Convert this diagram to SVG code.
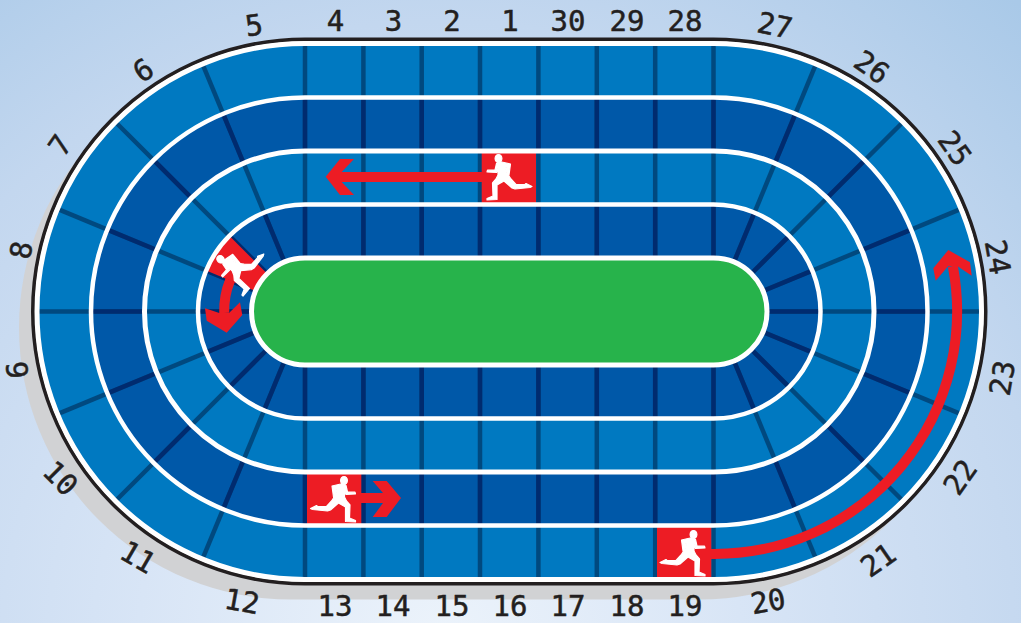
<svg xmlns="http://www.w3.org/2000/svg" width="1021" height="623" viewBox="0 0 1021 623">
<style>
.fl{fill:#0079c1}.fd{fill:#0058a8}
.sl{stroke:#00497f;stroke-width:4.5;fill:none}
.sd{stroke:#002b6f;stroke-width:4.5;fill:none}
.w{fill:none;stroke:#fff}
.red{fill:#ed1c24}
.rs{fill:none;stroke:#ed1c24;stroke-width:10}
.run{fill:#fff;stroke:#fff;stroke-width:1.2;stroke-linejoin:round}
text{font-family:"DejaVu Sans Mono","Liberation Mono",monospace;font-size:29px;fill:#231f20;stroke:#231f20;stroke-width:.5;text-anchor:middle}
</style>
<defs>
<radialGradient id="bg" gradientUnits="userSpaceOnUse" cx="440" cy="640" r="860">
<stop offset="0" stop-color="#ecf3fb"/><stop offset="0.35" stop-color="#d8e5f6"/><stop offset="0.72" stop-color="#c3d7ef"/><stop offset="1" stop-color="#a9c9e8"/>
</radialGradient>
<g id="spoke">
<line class="sl" x1="53" y1="0" x2="268" y2="0"/>
<line class="sd" x1="53" y1="0" x2="107" y2="0"/>
<line class="sd" x1="160" y1="0" x2="214" y2="0"/>
</g>
<g id="runner">
<ellipse class="run" cx="35.5" cy="5.5" rx="3.4" ry="3.9"/>
<path class="run" d="M34.5 8.5L37.5 10.5L39 17L46.5 17.2L47 19L37.5 19.5L36 15L36 22L38 26L41.5 30L41 43L47 45.5L47 47L37 46.5L37 32L30 28L22 35L19 36L4 34.5L2 33.5L8 30.5L9 31.5L18 31.5L23 26L27 20L28.5 15L27 14.5L27 22L25 22L23.5 11L30 9.5Z"/>
</g>
</defs>
<rect width="1021" height="623" fill="url(#bg)"/>
<rect id="shadow" x="19" y="55.5" width="952.5" height="544" rx="272" fill="#d1d2d4"/>
<g id="track">
<rect x="33" y="39.5" width="952.5" height="544" rx="272" fill="#fff"/>
<rect class="fl" x="37" y="43.5" width="944.5" height="536" rx="268"/>
<rect class="fd" x="91" y="97.5" width="836.5" height="428" rx="214"/>
<rect class="fl" x="144.5" y="151" width="729.5" height="321" rx="160.5"/>
<rect class="fd" x="198" y="204.5" width="622.5" height="214" rx="107"/>
</g>
<g id="dividers">
<g transform="translate(305 311.5)"><use href="#spoke" transform="rotate(-90)"/><use href="#spoke" transform="rotate(90)"/><use href="#spoke" transform="rotate(112.5)"/><use href="#spoke" transform="rotate(135)"/><use href="#spoke" transform="rotate(157.5)"/><use href="#spoke" transform="rotate(180)"/><use href="#spoke" transform="rotate(202.5)"/><use href="#spoke" transform="rotate(225)"/><use href="#spoke" transform="rotate(247.5)"/></g>
<g transform="translate(363.4 311.5)"><use href="#spoke" transform="rotate(-90)"/><use href="#spoke" transform="rotate(90)"/></g>
<g transform="translate(421.7 311.5)"><use href="#spoke" transform="rotate(-90)"/><use href="#spoke" transform="rotate(90)"/></g>
<g transform="translate(480 311.5)"><use href="#spoke" transform="rotate(-90)"/><use href="#spoke" transform="rotate(90)"/></g>
<g transform="translate(538.4 311.5)"><use href="#spoke" transform="rotate(-90)"/><use href="#spoke" transform="rotate(90)"/></g>
<g transform="translate(596.8 311.5)"><use href="#spoke" transform="rotate(-90)"/><use href="#spoke" transform="rotate(90)"/></g>
<g transform="translate(655.2 311.5)"><use href="#spoke" transform="rotate(-90)"/><use href="#spoke" transform="rotate(90)"/></g>
<g transform="translate(713.5 311.5)"><use href="#spoke" transform="rotate(-90)"/><use href="#spoke" transform="rotate(90)"/><use href="#spoke" transform="rotate(-67.5)"/><use href="#spoke" transform="rotate(-45)"/><use href="#spoke" transform="rotate(-22.5)"/><use href="#spoke" transform="rotate(0)"/><use href="#spoke" transform="rotate(22.5)"/><use href="#spoke" transform="rotate(45)"/><use href="#spoke" transform="rotate(67.5)"/></g>
</g>
<g id="red-cells">
<rect class="red" x="481.7" y="152" width="54.3" height="51"/>
<rect class="red" x="307" y="474" width="54.3" height="51"/>
<rect class="red" x="657" y="527" width="54.3" height="51"/>
<path class="red" d="M229.3 235.8L206.1 270.6L256 291.2L267.5 274Z"/>
</g>
<g id="lines">
<rect x="33" y="39.5" width="952.5" height="544" rx="272" fill="none" stroke="#231f20" stroke-width="4"/>
<rect class="w" x="37" y="43.5" width="944.5" height="536" rx="268" stroke-width="5"/>
<rect class="w" x="91" y="97.5" width="836.5" height="428" rx="214" stroke-width="4.5"/>
<rect class="w" x="144.5" y="151" width="729.5" height="321" rx="160.5" stroke-width="5"/>
<rect class="w" x="198" y="204.5" width="622.5" height="214" rx="107" stroke-width="4.5"/>
</g>
<rect id="infield" x="251.5" y="258" width="515.5" height="107" rx="53.5" fill="#27b34b" stroke="#fff" stroke-width="5"/>
<g id="runners">
<use href="#runner" transform="translate(534 153) scale(-1 1)"/>
<use href="#runner" transform="translate(308.5 475)"/>
<use href="#runner" transform="translate(658 529)"/>
<use href="#runner" transform="translate(240 270) rotate(-47) scale(-1 1) translate(-30 -27)"/>
</g>
<g id="connectors">
<path class="red" d="M325.7 176.7L340 159L354 159L341.7 172L482 172L482 182L341.7 182L354 195L340 195Z"/>
<path class="red" d="M401 498L386.7 481L372.7 481L383 493L361 493L361 503L383 503L372.7 517L386.7 517Z"/>
<path class="rs" d="M710 554H713.5A242.5 242.5 0 0 0 952.8 266"/>
<path class="red" d="M948.3 250L933.3 268.3L935.7 280.7L948.3 266L957.3 266L971.7 275.7L970 262.3Z"/>
<path class="rs" d="M230.2 280A81 81 0 0 0 224.2 313"/>
<path class="red" d="M226.7 332.7L206.7 320.7L205 308.3L219.3 313L229 313L240 302.3L242.3 315Z"/>
</g>
<g id="labels">
<text transform="translate(335.5 20)" y="10.5">4</text>
<text transform="translate(393.5 20)" y="10.5">3</text>
<text transform="translate(452 20)" y="10.5">2</text>
<text transform="translate(510 20)" y="10.5">1</text>
<text transform="translate(568 20)" y="10.5">30</text>
<text transform="translate(627 20)" y="10.5">29</text>
<text transform="translate(685 20)" y="10.5">28</text>
<text transform="translate(775 25) rotate(12)" y="10.5">27</text>
<text transform="translate(872 67) rotate(35)" y="10.5">26</text>
<text transform="translate(955 148) rotate(55)" y="10.5">25</text>
<text transform="translate(998 257) rotate(80)" y="10.5">24</text>
<text transform="translate(1002 378) rotate(-80)" y="10.5">23</text>
<text transform="translate(960 477) rotate(-55)" y="10.5">22</text>
<text transform="translate(878 560) rotate(-35)" y="10.5">21</text>
<text transform="translate(768 601) rotate(-10)" y="10.5">20</text>
<text transform="translate(685 605.5)" y="10.5">19</text>
<text transform="translate(627 605.5)" y="10.5">18</text>
<text transform="translate(568 605.5)" y="10.5">17</text>
<text transform="translate(510 605.5)" y="10.5">16</text>
<text transform="translate(452 605.5)" y="10.5">15</text>
<text transform="translate(393 605.5)" y="10.5">14</text>
<text transform="translate(335 605.5)" y="10.5">13</text>
<text transform="translate(242 601) rotate(10)" y="10.5">12</text>
<text transform="translate(138 557) rotate(30)" y="10.5">11</text>
<text transform="translate(60.7 478) rotate(45)" y="10.5">10</text>
<text transform="translate(17 370) rotate(85)" y="10.5">9</text>
<text transform="translate(21 250) rotate(-80)" y="10.5">8</text>
<text transform="translate(60 145) rotate(-55)" y="10.5">7</text>
<text transform="translate(143 70) rotate(-33)" y="10.5">6</text>
<text transform="translate(254 25) rotate(-8)" y="10.5">5</text>
</g>
</svg>
